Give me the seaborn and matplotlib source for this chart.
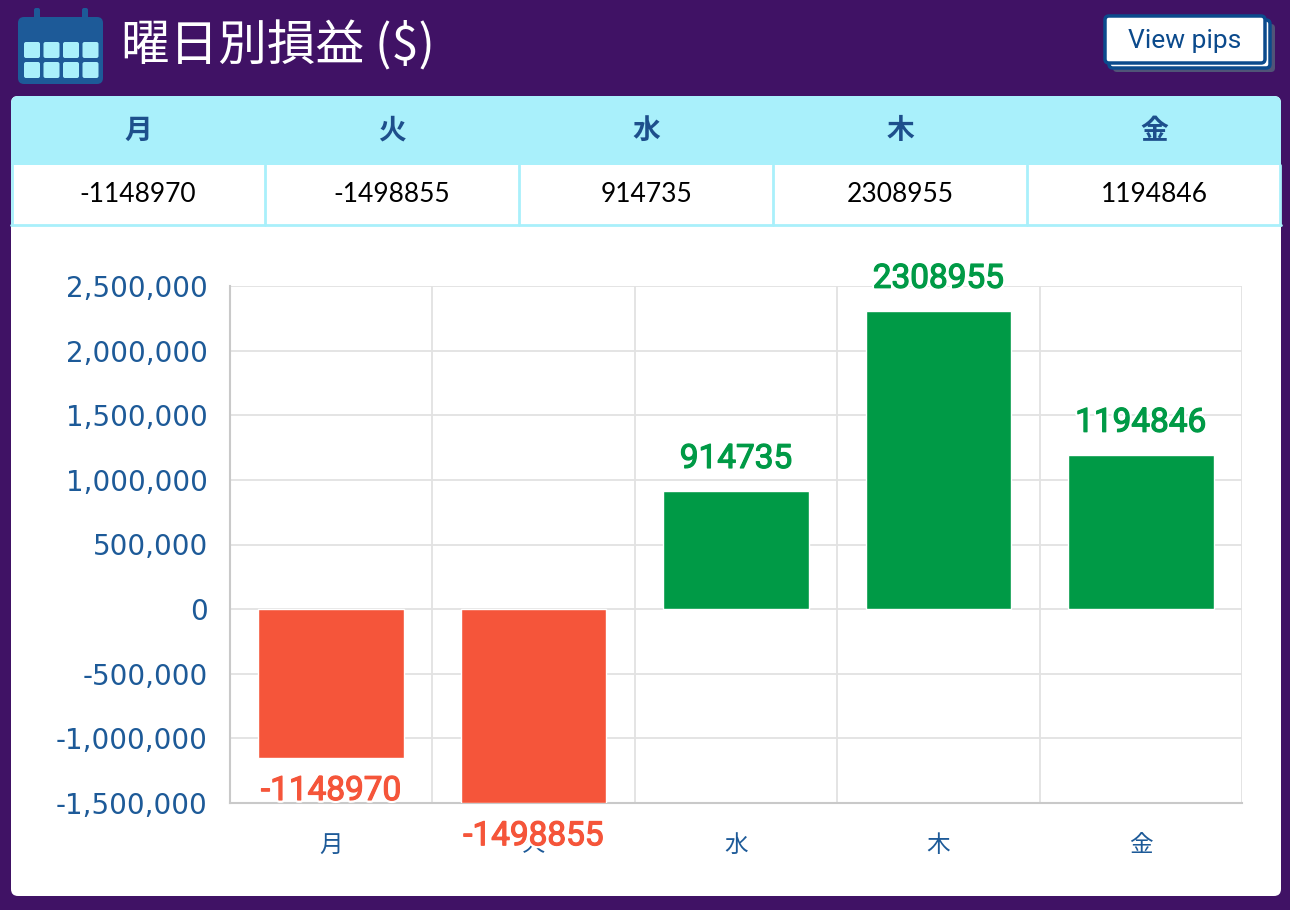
import pandas as pd
import matplotlib.pyplot as plt
import seaborn as sns
from matplotlib.patches import FancyBboxPatch, Rectangle
from matplotlib import patheffects
from matplotlib.ticker import FuncFormatter, MultipleLocator

# data
days = ['月', '火', '水', '木', '金']
pnl = [-1148970, -1498855, 914735, 2308955, 1194846]
title = '曜日別損益 ($)'
button_label = 'View pips'

PURPLE = '#401265'
RED = '#f5553a'
GREEN = '#009a46'
BLUE = '#1d5a98'
CYAN = '#a9f0fb'

sns.set_style('white')
plt.rcParams['font.family'] = ['Noto Sans CJK JP', 'DejaVu Sans']

W, H = 1290, 910
fig = plt.figure(figsize=(W / 100, H / 100), dpi=100, facecolor=PURPLE)

# pixel-space background layer for the card, table, header
bg = fig.add_axes([0, 0, 1, 1])
bg.set_xlim(0, W)
bg.set_ylim(H, 0)
bg.axis('off')
bg.set_facecolor(PURPLE)


def rbox(ax, x0, y0, x1, y1, fc, ec='none', lw=0, r=6, z=1):
    p = FancyBboxPatch((x0, y0), x1 - x0, y1 - y0,
                       boxstyle=f'round,pad=0,rounding_size={r}',
                       fc=fc, ec=ec, lw=lw, zorder=z)
    ax.add_patch(p)


# calendar icon
rbox(bg, 18, 17, 103, 84, '#1d5a98', r=6)
for rx in (37, 85):
    rbox(bg, rx - 3, 8, rx + 3, 24, '#1d5a98', r=2)
for row in range(2):
    for col in range(4):
        cx = 24 + col * 19.5
        cy = 42 + row * 20
        rbox(bg, cx, cy, cx + 16, cy + 16, CYAN, r=2, z=2)

bg.text(121, 46, title, color='white', fontsize=35, va='center', ha='left')

# button
rbox(bg, 1113, 24, 1275, 72, '#505477', r=4)
rbox(bg, 1109, 20, 1270, 68, 'white', ec='#0b4a8c', lw=2.5, r=4, z=2)
rbox(bg, 1105, 16, 1265, 63, 'white', ec='#0b4a8c', lw=2.5, r=4, z=3)
bg.text(1185, 41, button_label, color='#0b4a8c', fontsize=19,
        family=['Roboto', 'DejaVu Sans'], ha='center', va='center', zorder=4)

# card + table
rbox(bg, 11, 96, 1281, 896, 'white', r=7)
rbox(bg, 11, 96, 1281, 180, CYAN, r=7, z=2)
bg.add_patch(Rectangle((11, 165), 1270, 60, fc='white', ec='none', zorder=3))
col_w = 1270 / len(days)
for i, (d, v) in enumerate(zip(days, pnl)):
    cx = 11 + col_w * (i + 0.5)
    bg.text(cx, 131, d, color='#1d4f8c', fontsize=20, fontweight='bold',
            ha='center', va='center', zorder=5)
    bg.text(cx, 195, str(v), color='black', fontsize=19,
            family=['Lato', 'DejaVu Sans'], ha='center', va='center', zorder=5)
for i in range(len(days) + 1):
    x = 11 + col_w * i
    x = min(max(x, 12), 1280)
    bg.plot([x, x], [165, 225], color=CYAN, lw=2, zorder=4)
bg.plot([11, 1281], [225, 225], color=CYAN, lw=2, zorder=4)

# chart
ax = fig.add_axes([230 / W, 1 - 803 / H, 1012 / W, 517 / H])
ax.set_facecolor('none')
df = pd.DataFrame({'day': days, 'pnl': pnl})
colors = [GREEN if v >= 0 else RED for v in pnl]
sns.barplot(data=df, x='day', y='pnl', hue='day', palette=colors,
            legend=False, width=0.72, ax=ax, saturation=1, zorder=3)

ax.set_xlim(-0.5, len(days) - 0.5)
ax.set_ylim(-1500000, 2500000)
ax.yaxis.set_major_locator(MultipleLocator(500000))
ax.yaxis.set_major_formatter(FuncFormatter(lambda v, _: f'{int(v):,}'))
ax.set_xlabel('')
ax.set_ylabel('')

ax.set_xticks([i - 0.5 for i in range(len(days) + 1)], minor=True)
ax.grid(True, axis='y', color='#e2e2e2', lw=1.3, zorder=0)
ax.grid(True, axis='x', which='minor', color='#e2e2e2', lw=1.3, zorder=0)
ax.tick_params(axis='x', which='major', length=0, pad=22, labelsize=17,
               labelcolor=BLUE)
ax.tick_params(axis='x', which='minor', length=11, width=1.3, color='#e2e2e2')
ax.tick_params(axis='y', length=11, width=1.3, color='#e2e2e2', pad=5,
               labelsize=20, labelcolor=BLUE)
for lab in ax.get_yticklabels():
    lab.set_family(['DejaVu Sans'])

for s in ('top', 'right'):
    ax.spines[s].set_visible(False)
for s in ('left', 'bottom'):
    ax.spines[s].set_color('#c9c9c9')
    ax.spines[s].set_linewidth(1.5)

# value labels: white halo, slightly thickened glyphs
for i, v in enumerate(pnl):
    off = 23 if v >= 0 else -24
    c = GREEN if v >= 0 else RED
    ax.annotate(str(v), (i, v), xytext=(0, off), textcoords='offset points',
                ha='center', va='center', fontsize=24, fontweight='normal',
                family=['Roboto', 'DejaVu Sans'],
                color=c, annotation_clip=False, zorder=6,
                path_effects=[patheffects.withStroke(linewidth=4, foreground='white'),
                              patheffects.withStroke(linewidth=0.9, foreground=c)])

fig.savefig('out.png', dpi=100, facecolor=PURPLE)
